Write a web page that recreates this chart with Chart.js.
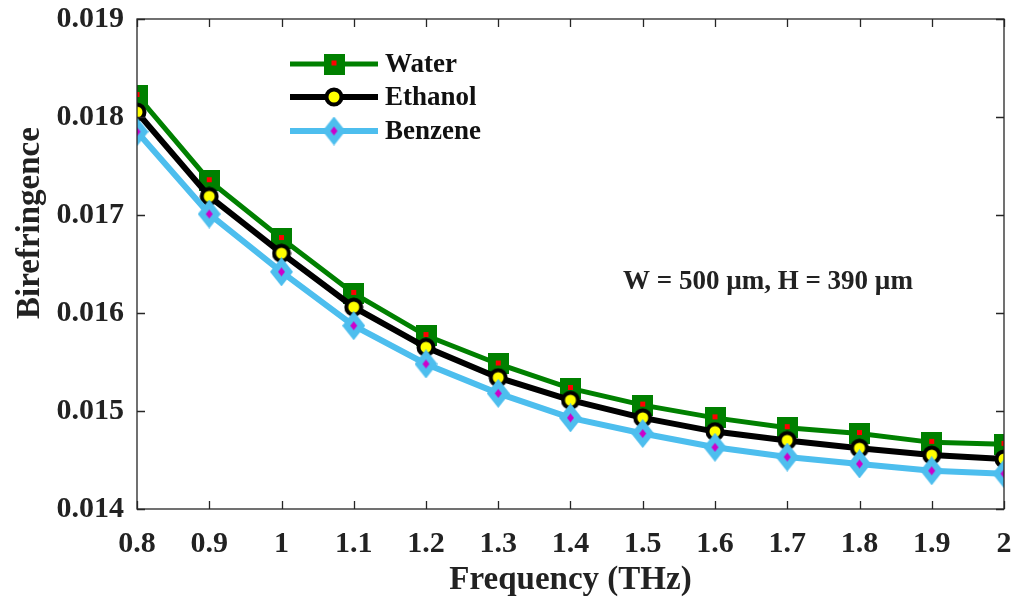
<!DOCTYPE html>
<html>
<head>
<meta charset="utf-8">
<script src="https://cdn.jsdelivr.net/npm/chart.js@4/dist/chart.umd.min.js"></script>
<style>
  html, body { margin: 0; padding: 0; background: #fff; }
  #wrap { width: 1015px; height: 603px; }
</style>
</head>
<body>
<div id="wrap"><canvas id="bire-chart"></canvas></div>
<script>
// values
var freq = [0.8, 0.9, 1.0, 1.1, 1.2, 1.3, 1.4, 1.5, 1.6, 1.7, 1.8, 1.9, 2.0];
var water = [0.01822, 0.01735, 0.01676, 0.01620, 0.01577, 0.01548, 0.01523, 0.01506, 0.01493, 0.01483, 0.01477, 0.01468, 0.01466];
var ethanol = [0.01805, 0.01719, 0.01661, 0.01606, 0.01565, 0.01534, 0.01511, 0.01493, 0.01479, 0.01470, 0.01462, 0.01455, 0.01451];
var benzene = [0.01785, 0.01701, 0.01642, 0.01587, 0.01548, 0.01518, 0.01493, 0.01477, 0.01463, 0.01453, 0.01446, 0.01439, 0.01436];
var seriesNames = ['Water', 'Ethanol', 'Benzene'];
var yTicks = [0.014, 0.015, 0.016, 0.017, 0.018, 0.019];
var xLabel = 'Frequency (THz)';
var yLabel = 'Birefringence';
var note = 'W = 500 \u00b5m, H = 390 \u00b5m';

var FONT = "'Liberation Serif', 'Times New Roman', serif";
var GREEN = '#008000', BLUE = '#4dbeee';

function makeMarker(w, h, draw) {
    var c = document.createElement('canvas');
    c.width = w; c.height = h;
    draw(c.getContext('2d'));
    return c;
}
var squareMark = makeMarker(21, 21, function (g) {
    g.fillStyle = GREEN; g.fillRect(0, 0, 21, 21);
    g.fillStyle = '#ff0000'; g.fillRect(8, 7, 5, 5);
});
var circleMark = makeMarker(20, 20, function (g) {
    g.beginPath(); g.arc(10, 10, 7.5, 0, Math.PI * 2);
    g.fillStyle = '#ffff00'; g.fill();
    g.lineWidth = 4; g.strokeStyle = '#000'; g.stroke();
});
var diamondMark = makeMarker(23, 29, function (g) {
    g.beginPath(); g.moveTo(11.5, 0); g.lineTo(23, 14.5); g.lineTo(11.5, 29); g.lineTo(0, 14.5); g.closePath();
    g.fillStyle = BLUE; g.fill();
    g.beginPath(); g.moveTo(11.5, 10); g.lineTo(15, 14.5); g.lineTo(11.5, 19); g.lineTo(8, 14.5); g.closePath();
    g.fillStyle = '#cc00cc'; g.fill();
});

function pts(ys) {
    return freq.map(function (x, i) { return { x: x, y: ys[i] }; });
}

// box, inward ticks, titles, legend and note
var decor = {
    id: 'decor',
    afterDraw: function (chart) {
        var ctx = chart.ctx, a = chart.chartArea;
        var xs = chart.scales.x, ys = chart.scales.y;
        ctx.save();
        ctx.strokeStyle = '#262626';
        ctx.lineWidth = 1.3;
        ctx.strokeRect(a.left, a.top, a.right - a.left, a.bottom - a.top);
        ctx.beginPath();
        freq.forEach(function (f) {
            var px = Math.round(xs.getPixelForValue(f)) + 0.5;
            ctx.moveTo(px, a.bottom); ctx.lineTo(px, a.bottom - 8);
            ctx.moveTo(px, a.top); ctx.lineTo(px, a.top + 8);
        });
        yTicks.forEach(function (v) {
            var py = Math.round(ys.getPixelForValue(v)) + 0.5;
            ctx.moveTo(a.left, py); ctx.lineTo(a.left + 8, py);
            ctx.moveTo(a.right, py); ctx.lineTo(a.right - 8, py);
        });
        ctx.stroke();

        ctx.fillStyle = '#222';
        ctx.font = 'bold 33px ' + FONT;
        ctx.textAlign = 'center';
        ctx.textBaseline = 'middle';
        ctx.fillText(xLabel, (a.left + a.right) / 2, 580);
        ctx.save();
        ctx.translate(30, 223);
        ctx.rotate(-Math.PI / 2);
        ctx.fillText(yLabel, 0, 0);
        ctx.restore();

        ctx.font = 'bold 27px ' + FONT;
        ctx.textAlign = 'left';
        ctx.fillText(note, 623, 282);

        var marks = [squareMark, circleMark, diamondMark];
        var cols = [GREEN, '#000', BLUE];
        var rows = [64, 97, 131];
        for (var i = 0; i < 3; i++) {
            ctx.strokeStyle = cols[i];
            ctx.lineWidth = i === 0 ? 5 : 6;
            ctx.beginPath();
            ctx.moveTo(290, rows[i]); ctx.lineTo(378, rows[i]);
            ctx.stroke();
            var m = marks[i];
            ctx.drawImage(m, 334 - m.width / 2, rows[i] - m.height / 2);
            ctx.fillStyle = '#111';
            ctx.font = 'bold 27px ' + FONT;
            ctx.fillText(seriesNames[i], 385, rows[i] + 1);
        }
        ctx.restore();
    }
};

var ctx = document.getElementById('bire-chart').getContext('2d');
var chart = new Chart(ctx, {
    type: 'line',
    data: {
        datasets: [{
            label: seriesNames[0],
            data: pts(water),
            borderColor: GREEN,
            borderWidth: 5,
            pointStyle: squareMark,
            order: 3
        }, {
            label: seriesNames[1],
            data: pts(ethanol),
            borderColor: '#000',
            borderWidth: 6,
            pointStyle: circleMark,
            order: 2
        }, {
            label: seriesNames[2],
            data: pts(benzene),
            borderColor: BLUE,
            borderWidth: 6,
            pointStyle: diamondMark,
            order: 1
        }]
    },
    options: {
        responsive: true,
        maintainAspectRatio: false,
        animation: false,
        layout: { padding: { top: 19, right: 11, left: 0, bottom: 0 } },
        plugins: {
            legend: { display: false },
            tooltip: { enabled: false },
            title: { display: false }
        },
        elements: { line: { tension: 0 } },
        scales: {
            x: {
                type: 'linear',
                min: 0.8,
                max: 2,
                afterFit: function (s) {
                    s.height = 94;
                    s.paddingLeft = 0; s.paddingRight = 0;
                },
                afterBuildTicks: function (s) {
                    s.ticks = freq.map(function (v) { return { value: v }; });
                },
                grid: { display: false, drawTicks: false },
                border: { display: false },
                ticks: {
                    padding: 17,
                    color: '#222',
                    font: { family: FONT, size: 30, weight: 'bold' },
                    maxRotation: 0,
                    autoSkip: false,
                    callback: function (v) { return String(Number(v.toFixed(1))); }
                }
            },
            y: {
                min: 0.014,
                max: 0.019,
                afterFit: function (s) {
                    s.width = 137;
                    s.paddingTop = 0; s.paddingBottom = 0;
                },
                afterBuildTicks: function (s) {
                    s.ticks = yTicks.map(function (v) { return { value: v }; });
                },
                grid: { display: false, drawTicks: false },
                border: { display: false },
                ticks: {
                    padding: 13,
                    color: '#222',
                    font: { family: FONT, size: 30, weight: 'bold' },
                    callback: function (v) { return v.toFixed(3); }
                }
            }
        }
    },
    plugins: [decor]
});
</script>
</body>
</html>
